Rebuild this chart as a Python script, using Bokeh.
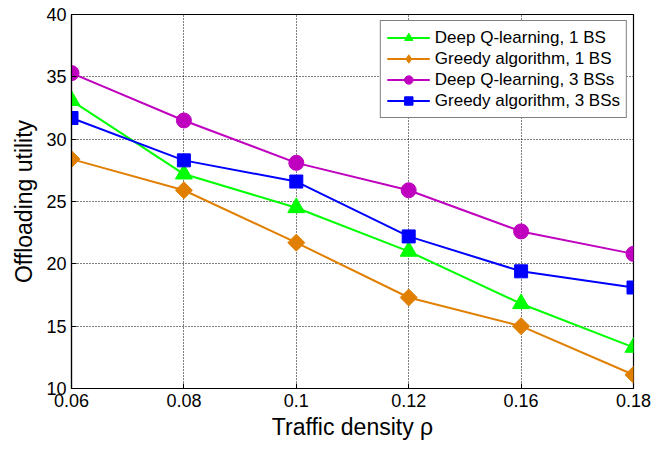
import math
from bokeh.plotting import figure
from bokeh.models import Range1d, FixedTicker, Legend, LegendItem
from bokeh.embed import file_html
from bokeh.resources import INLINE

x_labels = ["0.06", "0.08", "0.1", "0.12", "0.16", "0.18"]
dq_1bs = [33.1, 27.2, 24.5, 21.0, 16.8, 13.3]
greedy_1bs = [28.4, 25.9, 21.7, 17.3, 15.0, 11.1]
dq_3bs = [35.3, 31.5, 28.1, 25.9, 22.6, 20.8]
greedy_3bs = [31.7, 28.3, 26.6, 22.2, 19.4, 18.1]

xs = list(range(len(x_labels)))
FONT = "Liberation Sans"

p = figure(width=661, height=442, output_backend="svg", toolbar_location=None,
           x_range=Range1d(0, len(x_labels) - 1), y_range=Range1d(10, 40),
           min_border_left=71, min_border_top=14, min_border_right=28, min_border_bottom=52)

p.outline_line_color = "black"
p.outline_line_width = 1.2
p.outline_line_alpha = 1
p.background_fill_color = "white"
p.border_fill_color = "white"

for ax in (p.xaxis[0], p.yaxis[0]):
    ax.major_tick_in = 5
    ax.major_tick_out = 0
    ax.minor_tick_in = 0
    ax.minor_tick_out = 0
    ax.axis_line_color = "black"
    ax.axis_line_width = 1.2
    ax.major_tick_line_color = "black"
    ax.major_label_text_font = FONT
    ax.major_label_text_font_size = "18px"
    ax.major_label_text_color = "black"
    ax.axis_label_text_font = FONT
    ax.axis_label_text_font_style = "normal"
    ax.axis_label_text_color = "black"
    ax.axis_label_text_font_size = "23px"

p.xaxis.ticker = FixedTicker(ticks=xs)
p.xaxis.major_label_overrides = {i: lab for i, lab in enumerate(x_labels)}
p.xaxis.major_label_standoff = 5
p.xaxis.axis_label = "Traffic density ρ"
p.xaxis.axis_label_standoff = 4
p.yaxis.ticker = FixedTicker(ticks=[10, 15, 20, 25, 30, 35, 40])
p.yaxis.axis_label = "Offloading utility"
p.yaxis.major_label_standoff = 5
p.yaxis.axis_label_standoff = 6

for g in (p.xgrid[0], p.ygrid[0]):
    g.grid_line_color = "black"
    g.grid_line_dash = "1 2"
    g.grid_line_width = 1
    g.grid_line_alpha = 1

# (label, values, colour, plot marker, size, angle, legend marker)
series = [
    ("Deep Q-learning, 1 BS", dq_1bs, "#00ff00", "triangle", 17, 0.0, "triangle"),
    ("Greedy algorithm, 1 BS", greedy_1bs, "#e07f00", "square", 12, math.pi / 4, "diamond"),
    ("Deep Q-learning, 3 BSs", dq_3bs, "#bf00bf", "circle", 15, 0.0, "circle"),
    ("Greedy algorithm, 3 BSs", greedy_3bs, "#0000ff", "square", 13, 0.0, "square"),
]

items = []
for label, ys, color, marker, size, ang, lmarker in series:
    l = p.line(xs, ys, line_color=color, line_width=2)
    s = p.scatter(xs, ys, marker=marker, size=size, angle=ang,
                  fill_color=color, line_color=color)
    if lmarker != marker or ang != 0.0:
        # legend-only glyph (no visible points in the plot)
        s_leg = p.scatter([float("nan")], [float("nan")], marker=lmarker, size=size,
                          fill_color=color, line_color=color)
        items.append(LegendItem(label=label, renderers=[l, s_leg]))
    else:
        items.append(LegendItem(label=label, renderers=[l, s]))

legend = Legend(items=items, location="top_right")
legend.label_text_font = FONT
legend.label_text_font_size = "17px"
legend.label_text_color = "black"
legend.border_line_color = "black"
legend.border_line_width = 1.2
legend.glyph_width = 43
legend.glyph_height = 21
legend.label_height = 21
legend.spacing = 0
legend.padding = 6
legend.margin = 6
legend.label_standoff = 5
legend.background_fill_alpha = 1
p.add_layout(legend)

open("out.html", "w").write(file_html(p, INLINE))
